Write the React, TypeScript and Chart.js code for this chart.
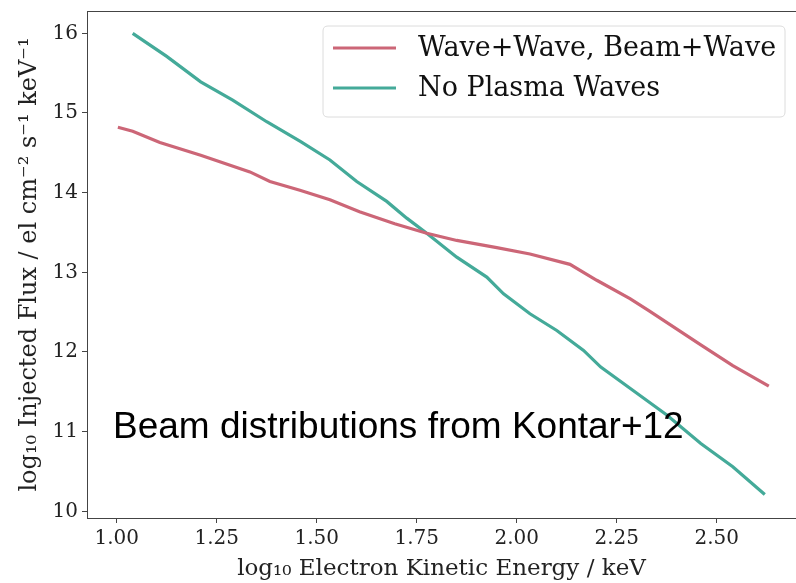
import React, { useEffect, useRef } from "react";
import { Chart, registerables } from "chart.js";

Chart.register(...registerables);

const seriesLabels = ["Wave+Wave, Beam+Wave", "No Plasma Waves"];
const seriesColors = ["#cc6677", "#44aa99"];

const redEnergy = [1.003, 1.04, 1.108, 1.21, 1.333, 1.383, 1.458, 1.533, 1.607, 1.695, 1.775, 1.85, 1.95, 2.033, 2.133, 2.2, 2.283, 2.33, 2.46, 2.54, 2.63];
const redFlux = [14.82, 14.77, 14.63, 14.47, 14.26, 14.14, 14.03, 13.91, 13.76, 13.61, 13.49, 13.40, 13.31, 13.23, 13.10, 12.90, 12.67, 12.52, 12.09, 11.83, 11.57];

const greenEnergy = [1.04, 1.125, 1.21, 1.29, 1.375, 1.46, 1.533, 1.6, 1.675, 1.725, 1.775, 1.85, 1.925, 1.967, 2.033, 2.1, 2.167, 2.21, 2.29, 2.375, 2.46, 2.54, 2.62];
const greenFlux = [16.0, 15.71, 15.39, 15.16, 14.89, 14.64, 14.41, 14.14, 13.89, 13.68, 13.49, 13.19, 12.94, 12.73, 12.48, 12.27, 12.02, 11.81, 11.52, 11.21, 10.85, 10.56, 10.21];

const xTicks = [1.0, 1.25, 1.5, 1.75, 2.0, 2.25, 2.5];
const yTicks = [10, 11, 12, 13, 14, 15, 16];

const xTitle = "log\u2081\u2080 Electron Kinetic Energy / keV";
const yTitle = "log\u2081\u2080 Injected Flux / el cm\u207B\u00B2 s\u207B\u00B9 keV\u207B\u00B9";
const annotation = "Beam distributions from Kontar+12";

const SERIF = "'DejaVu Serif', serif";

const overlayPlugin = {
  id: "overlay",
  afterDraw(chart: any) {
    const ctx = chart.ctx;
    ctx.save();
    // legend box
    const bx = 323, by = 26, bw = 462, bh = 91, r = 5;
    ctx.beginPath();
    ctx.moveTo(bx + r, by);
    ctx.lineTo(bx + bw - r, by);
    ctx.quadraticCurveTo(bx + bw, by, bx + bw, by + r);
    ctx.lineTo(bx + bw, by + bh - r);
    ctx.quadraticCurveTo(bx + bw, by + bh, bx + bw - r, by + bh);
    ctx.lineTo(bx + r, by + bh);
    ctx.quadraticCurveTo(bx, by + bh, bx, by + bh - r);
    ctx.lineTo(bx, by + r);
    ctx.quadraticCurveTo(bx, by, bx + r, by);
    ctx.closePath();
    ctx.fillStyle = "rgba(255,255,255,0.8)";
    ctx.fill();
    ctx.strokeStyle = "#dcdcdc";
    ctx.lineWidth = 1;
    ctx.stroke();
    const rows = [48, 88];
    chart.data.datasets.forEach((ds: any, i: number) => {
      ctx.strokeStyle = ds.borderColor;
      ctx.lineWidth = 3.2;
      ctx.beginPath();
      ctx.moveTo(333, rows[i]);
      ctx.lineTo(396, rows[i]);
      ctx.stroke();
      ctx.fillStyle = "#111";
      ctx.font = "27px " + SERIF;
      ctx.textBaseline = "middle";
      ctx.textAlign = "left";
      ctx.fillText(ds.label, 418, rows[i] + 1);
    });
    // annotation
    ctx.fillStyle = "#000";
    ctx.font = "37px 'Liberation Sans', Arial, sans-serif";
    ctx.textBaseline = "alphabetic";
    ctx.fillText(annotation, 113, 438);
    ctx.restore();
  },
};

export default function App() {
  const ref = useRef<HTMLCanvasElement | null>(null);
  useEffect(() => {
    if (!ref.current) return;
    const chart = new Chart(ref.current, {
      type: "line",
      data: {
        datasets: [
          {
            label: seriesLabels[0],
            data: redEnergy.map((x, i) => ({ x, y: redFlux[i] })),
            borderColor: seriesColors[0],
            borderWidth: 3.2,
            pointRadius: 0,
            tension: 0,
            fill: false,
          },
          {
            label: seriesLabels[1],
            data: greenEnergy.map((x, i) => ({ x, y: greenFlux[i] })),
            borderColor: seriesColors[1],
            borderWidth: 3.2,
            pointRadius: 0,
            tension: 0,
            fill: false,
          },
        ],
      },
      options: {
        animation: false,
        responsive: true,
        maintainAspectRatio: false,
        layout: { padding: 0 },
        plugins: {
          legend: { display: false },
          tooltip: { enabled: false },
        },
        scales: {
          x: {
            type: "linear",
            position: "bottom",
            min: 0.9258,
            max: 2.698,
            afterBuildTicks: (s: any) => {
              s.ticks = xTicks.map((v) => ({ value: v }));
            },
            afterFit: (s: any) => {
              s.height = 65;
              s.paddingLeft = 0;
              s.paddingRight = 0;
            },
            ticks: {
              callback: (v: any) => Number(v).toFixed(2),
              font: { family: SERIF, size: 20 },
              color: "#222",
              padding: 4,
              maxRotation: 0,
            },
            grid: {
              drawOnChartArea: false,
              drawTicks: true,
              tickLength: 5,
              tickColor: "#444",
            },
            border: { display: true, color: "#444", width: 1 },
            title: {
              display: true,
              text: xTitle,
              font: { family: SERIF, size: 23 },
              color: "#222",
              padding: { top: 0, bottom: 0 },
            },
          },
          xTop: {
            type: "linear",
            position: "top",
            min: 0.9258,
            max: 2.698,
            afterFit: (s: any) => {
              s.height = 11;
              s.paddingLeft = 0;
              s.paddingRight = 0;
            },
            ticks: { display: false },
            grid: { display: false, drawTicks: false },
            border: { display: true, color: "#444", width: 1 },
          },
          y: {
            type: "linear",
            min: 9.916,
            max: 16.28,
            afterBuildTicks: (s: any) => {
              s.ticks = yTicks.map((v) => ({ value: v }));
            },
            afterFit: (s: any) => {
              s.width = 87;
              s.paddingTop = 0;
              s.paddingBottom = 0;
            },
            ticks: {
              callback: (v: any) => String(v),
              font: { family: SERIF, size: 20 },
              color: "#222",
              padding: 4,
            },
            grid: {
              drawOnChartArea: false,
              drawTicks: true,
              tickLength: 5,
              tickColor: "#444",
            },
            border: { display: true, color: "#444", width: 1 },
            title: {
              display: true,
              text: yTitle,
              font: { family: SERIF, size: 24 },
              color: "#222",
              padding: { top: 15, bottom: 0 },
            },
          },
        },
      },
      plugins: [overlayPlugin],
    });
    return () => chart.destroy();
  }, []);
  return (
    <div style={{ position: "absolute", left: 0, top: 0, width: 796, height: 583, background: "#fff" }}>
      <canvas ref={ref} />
    </div>
  );
}
